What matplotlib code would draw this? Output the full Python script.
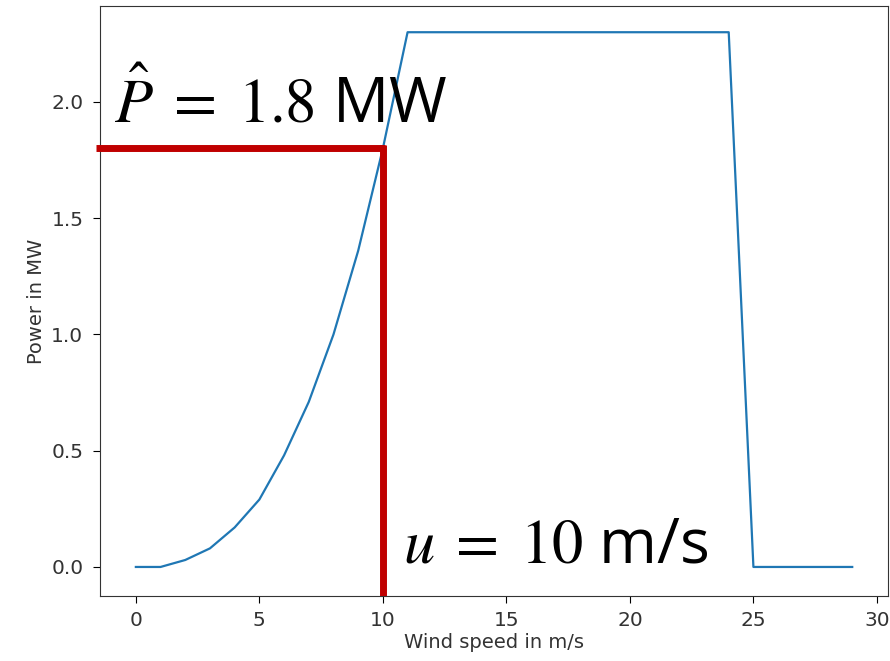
import numpy as np
import matplotlib
matplotlib.use('Agg')
import matplotlib.pyplot as plt

# power curve (MW per integer wind speed)
wind_speed = list(range(30))
power = [0.0, 0.0, 0.03, 0.08, 0.17, 0.29, 0.48, 0.71, 1.0, 1.36,
         1.8, 2.3, 2.3, 2.3, 2.3, 2.3, 2.3, 2.3, 2.3, 2.3,
         2.3, 2.3, 2.3, 2.3, 2.3, 0.0, 0.0, 0.0, 0.0, 0.0]
u_sel = 10
p_sel = 1.8

RED = '#C00000'

plt.rcParams['mathtext.fontset'] = 'stix'

fig = plt.figure(figsize=(8.9, 6.61), dpi=100)
ax = fig.add_axes([0.1124, 0.0983, 0.8854, 0.8927])
ax.plot(wind_speed, power, color='#1f77b4', linewidth=1.6)
ax.set_xlim(-1.45, 30.45)
ax.set_ylim(-0.125, 2.413)
ax.set_xlabel("Wind speed in m/s", fontsize=14, color='#333333', labelpad=2)
ax.set_ylabel("Power in MW", fontsize=14, color='#333333', labelpad=4)
ax.tick_params(labelsize=14.5, labelcolor='#333333', length=5, pad=7)
ax.tick_params(axis='x', pad=6)
ax.set_xticks([0, 5, 10, 15, 20, 25, 30])
ax.set_yticks([0.0, 0.5, 1.0, 1.5, 2.0])
for s in ax.spines.values():
    s.set_color('#333333')

ymin = ax.get_ylim()[0]
ax.plot([-1.6, u_sel + 0.1], [p_sel, p_sel], color=RED, linewidth=5,
        solid_capstyle='butt', clip_on=False, zorder=3)
ax.plot([u_sel, u_sel], [p_sel + 0.013, ymin], color=RED, linewidth=5,
        solid_capstyle='butt', zorder=3)

ax.text(-0.9, 1.91, r"$\hat{P}\;=\;1.8$ MW", fontsize=45, va='baseline',
        family='Open Sans')
ax.text(10.8, 0.02, r"$u\;=\;10$ m/s", fontsize=45, va='baseline',
        family='Open Sans')

fig.savefig("out.png", dpi=100)
